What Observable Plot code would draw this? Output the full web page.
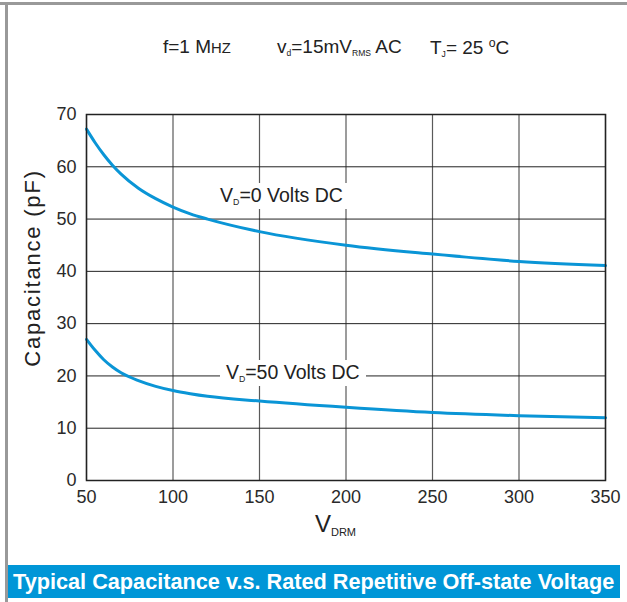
<!DOCTYPE html>
<html><head><meta charset="utf-8">
<script src="https://cdn.jsdelivr.net/npm/d3@7"></script>
<script src="https://cdn.jsdelivr.net/npm/@observablehq/plot@0.6"></script>
<style>
body{margin:0;background:#fff;font-family:"Liberation Sans",Arial,sans-serif;}
#wrap{position:relative;width:627px;height:602px;overflow:hidden;background:#fff;}
#wrap svg{position:absolute;left:0;top:0;}
.abs{position:absolute;white-space:nowrap;color:#222;line-height:1;}
.sm{font-size:0.45em;position:relative;top:0.3em;}
</style></head><body><div id="wrap"></div>
<script>
const voltage = [50, 55, 60, 65, 70, 80, 90, 100, 110, 120, 150, 200, 250, 300, 350];
const capVd0  = [67.2, 64.6, 62.3, 60.3, 58.6, 55.9, 53.9, 52.3, 51.0, 50.0, 47.6, 45.0, 43.3, 41.9, 41.1];
const capVd50 = [27.0, 24.9, 23.1, 21.7, 20.6, 19.1, 18.0, 17.2, 16.6, 16.1, 15.2, 14.0, 13.0, 12.4, 12.0];
const xTicks = [50, 100, 150, 200, 250, 300, 350];
const yTicks = [0, 10, 20, 30, 40, 50, 60, 70];
const seriesNames = ["0", "50"];
const labelAnchors = [[163, 54.3], [169.5, 20.5]];

const rows = [];
voltage.forEach((v, i) => {
  rows.push({series: seriesNames[0], v, c: capVd0[i]});
  rows.push({series: seriesNames[1], v, c: capVd50[i]});
});

const plot = Plot.plot({
  width: 627, height: 602,
  marginLeft: 86, marginRight: 22, marginTop: 114, marginBottom: 122,
  style: {fontFamily: "'Liberation Sans',Arial,sans-serif", fontSize: "18px", color: "#2a2a2a", background: "transparent"},
  x: {domain: [50, 350], ticks: xTicks, label: null},
  y: {domain: [0, 70], ticks: yTicks, label: null},
  marks: [
    Plot.gridX(xTicks, {stroke: "#5a5a5a", strokeOpacity: 1, strokeWidth: 1.2}),
    Plot.gridY(yTicks, {stroke: "#222", strokeOpacity: 1, strokeWidth: 1}),
    Plot.axisX(xTicks, {tickSize: 0, tickPadding: 10, fill: "#2a2a2a"}),
    Plot.axisY(yTicks, {tickSize: 0, tickPadding: 10, fill: "#2a2a2a"}),
    Plot.line(rows, {x: "v", y: "c", z: "series", stroke: "#0a95d6", strokeWidth: 3, curve: "monotone-x"}),
    Plot.frame({stroke: "#222", strokeWidth: 1.5})
  ]
});
const wrap = document.getElementById("wrap");
wrap.appendChild(plot);
const sx = plot.scale("x"), sy = plot.scale("y");

function add(html, css) {
  const d = document.createElement("div");
  d.className = "abs";
  d.innerHTML = html;
  Object.assign(d.style, css);
  wrap.appendChild(d);
  return d;
}
// frame borders
add("", {left: "0px", top: "2px", width: "627px", height: "3px", background: "#999"});
add("", {left: "5px", top: "2px", width: "3px", height: "600px", background: "#999"});

// header
add('f=1 M<span style="font-size:0.78em">HZ</span>', {left: "163px", top: "37px", fontSize: "19px"});
add('v<span class="sm">d</span>=15mV<span class="sm">RMS</span> AC', {left: "277px", top: "37px", fontSize: "19px"});
add('T<span class="sm">J</span>= 25 <sup style="font-size:0.65em">o</sup>C', {left: "430px", top: "37px", fontSize: "19px"});

// series labels
seriesNames.forEach((s, i) => {
  const [ax, ay] = labelAnchors[i];
  const d = add(`V<span class="sm">D</span>=${s} Volts DC`, {fontSize: "19.5px", background: "#fff", padding: "3px 6px"});
  const r = d.getBoundingClientRect();
  d.style.left = (sx.apply(ax) - r.width / 2) + "px";
  d.style.top = (sy.apply(ay) - r.height / 2) + "px";
});

// axis titles
const yl = add("Capacitance (pF)", {fontSize: "22px", letterSpacing: "1.8px", color: "#222"});
const yr = yl.getBoundingClientRect();
yl.style.left = (33 - yr.width / 2) + "px";
yl.style.top = (268 - yr.height / 2) + "px";
yl.style.transform = "rotate(-90deg)";

const xl = add('V<span style="font-size:0.46em;position:relative;top:0.4em">DRM</span>', {fontSize: "24px"});
const xr = xl.getBoundingClientRect();
xl.style.left = (sx.apply(200) - xr.width / 2 - 10) + "px";
xl.style.top = "512px";

// bottom title bar
add("Typical Capacitance v.s. Rated Repetitive Off-state Voltage",
  {left: "8px", top: "565px", width: "607px", height: "33px", background: "#0096d7", color: "#fff",
   fontWeight: "bold", fontSize: "21.7px", lineHeight: "34px", paddingLeft: "5px", overflow: "hidden"});
</script></body></html>
